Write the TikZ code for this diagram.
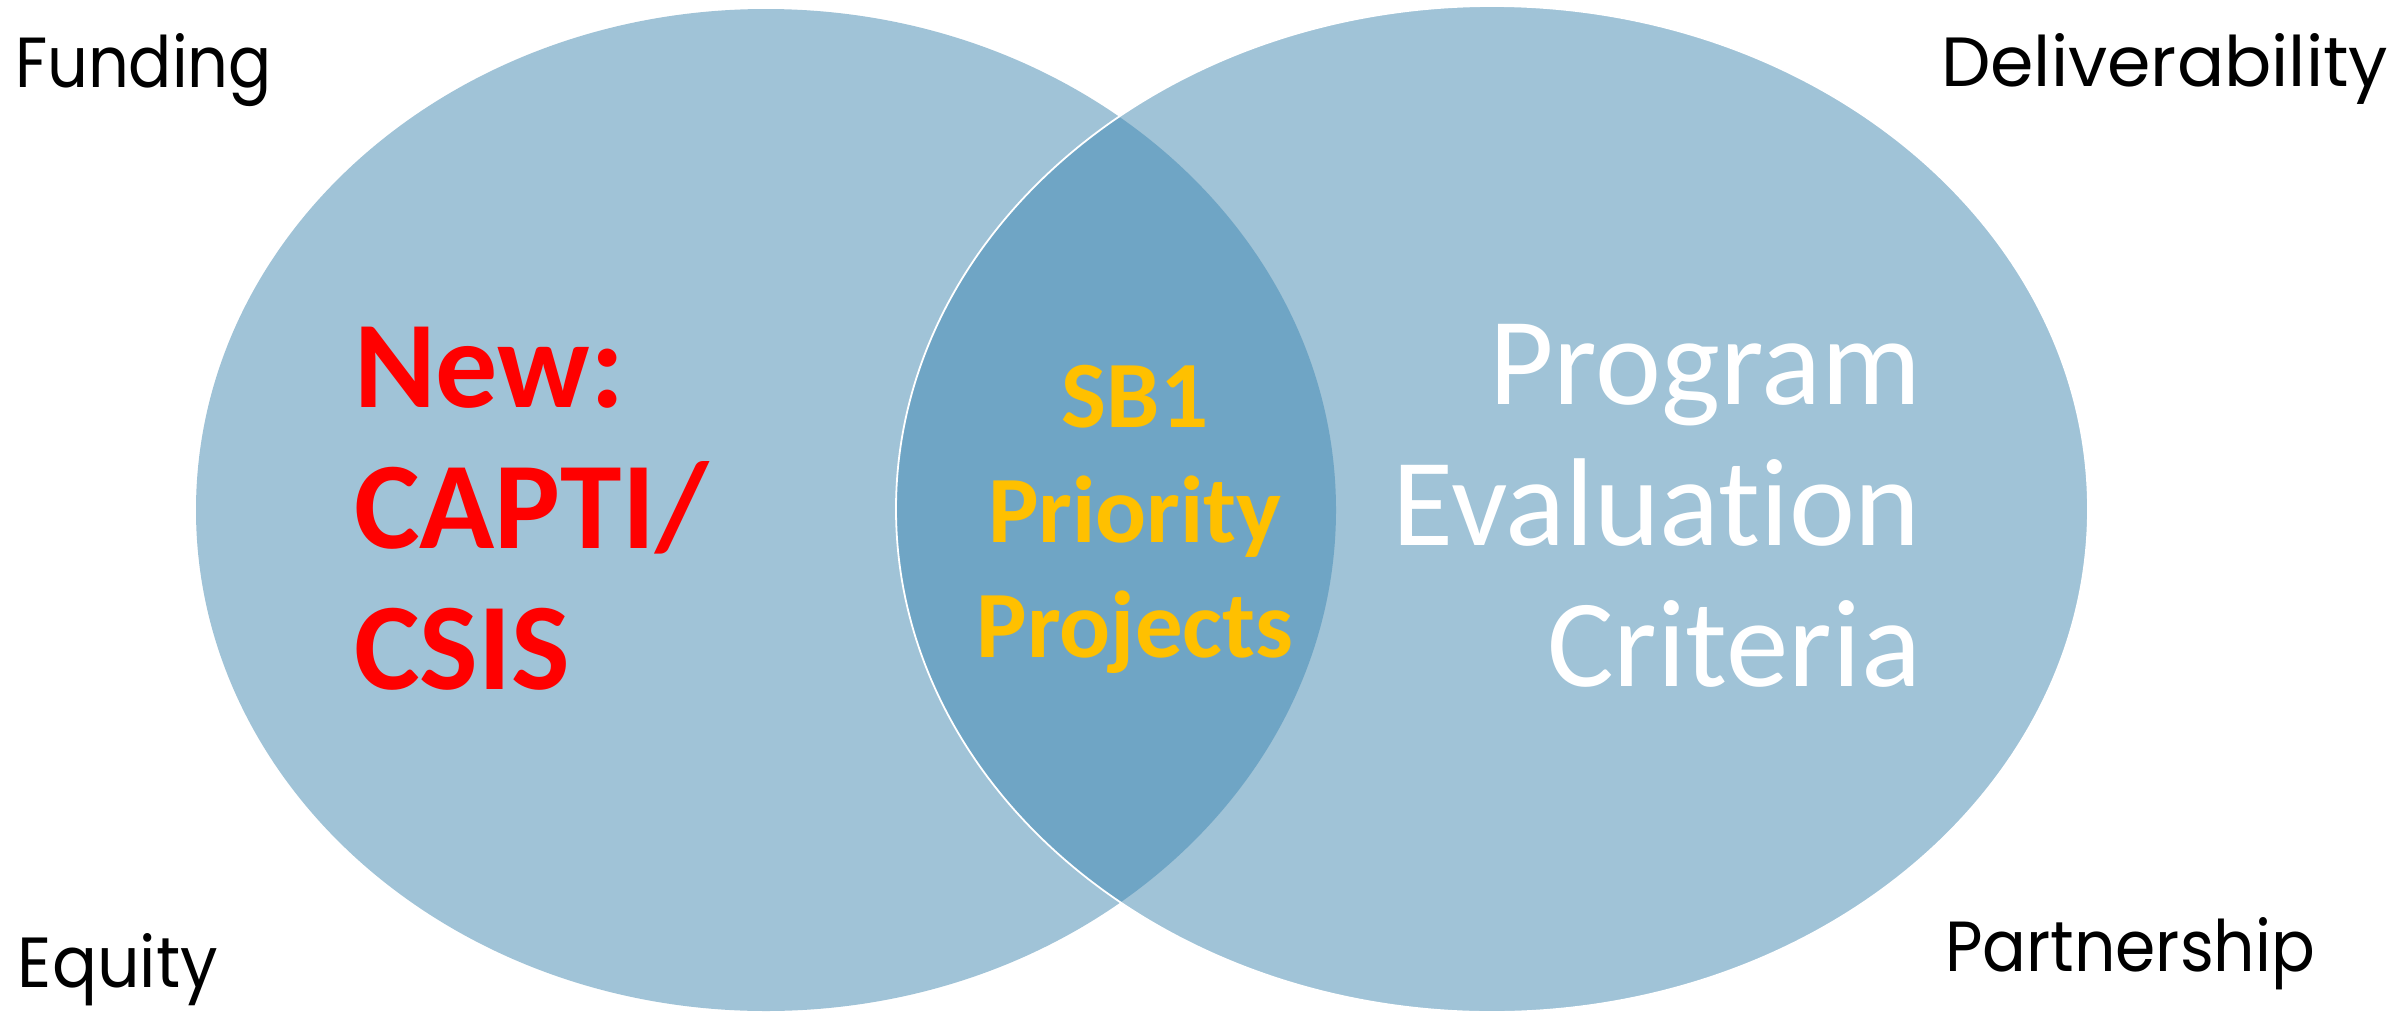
\documentclass[tikz,border=0pt]{standalone}
\usepackage{fontspec}
\setmainfont{Carlito}[Ligatures={NoCommon}]
\newfontfamily\labelfont{Poppins}
\definecolor{lightblue}{RGB}{160,195,215}
\definecolor{darkblue}{RGB}{111,165,197}
\definecolor{gold}{RGB}{255,192,0}
\definecolor{pured}{RGB}{255,0,0}
\tikzset{
  corner/.style={inner sep=0pt, outer sep=0pt, text=black},
  redtxt/.style={inner sep=0pt, text=pured, font=\fontsize{124}{141}\selectfont\bfseries, anchor=base west},
  goldtxt/.style={inner sep=0pt, text=gold, font=\fontsize{95}{115}\selectfont\bfseries, anchor=base},
  whitetxt/.style={inner sep=0pt, text=white, font=\fontsize{125}{141}\selectfont, anchor=base east},
}
\begin{document}
\begin{tikzpicture}[x=1pt,y=-1pt]
\useasboundingbox (0,0) rectangle (2399,1012);
\fill[white] (0,0) rectangle (2399,1012);
% ellipses
\fill[lightblue] (766,510) ellipse [x radius=570pt, y radius=501pt];
\fill[lightblue] (1492,509) ellipse [x radius=596pt, y radius=503pt];
\begin{scope}
  \clip (766,510) ellipse [x radius=570pt, y radius=501pt];
  \fill[darkblue] (1492,509) ellipse [x radius=596pt, y radius=503pt];
\end{scope}
\draw[white, line width=1.8pt] (1492,509) ellipse [x radius=596pt, y radius=503pt];
% corner labels
\node[corner, anchor=base west] (funding) at (15,87) {\resizebox{257pt}{54pt}{\labelfont Funding}};
\node[corner, anchor=base west] (deliv) at (1941,86) {\resizebox{447pt}{53pt}{\labelfont Deliverability}};
\node[corner, anchor=base west] (equity) at (18,987) {\resizebox{200pt}{54pt}{\labelfont Equity}};
\node[corner, anchor=base west] (partner) at (1945,971) {\resizebox{370pt}{54pt}{\labelfont Partnership}};
% left text
\node[redtxt] (new) at (354,407) {New:};
\node[redtxt] (capti) at (354,548) {CAPTI/};
\node[redtxt] (csis) at (354,689) {CSIS};
% centre text
\node[goldtxt] (sb1) at (1135,427) {SB1};
\node[goldtxt] (priority) at (1135,542) {Priority};
\node[goldtxt] (projects) at (1135,657) {Projects};
% right text
\node[whitetxt] (program) at (1921,404) {Program};
\node[whitetxt] (evaluation) at (1921,545) {Evaluation};
\node[whitetxt] (criteria) at (1921,686) {Criteria};
\end{tikzpicture}
\end{document}
